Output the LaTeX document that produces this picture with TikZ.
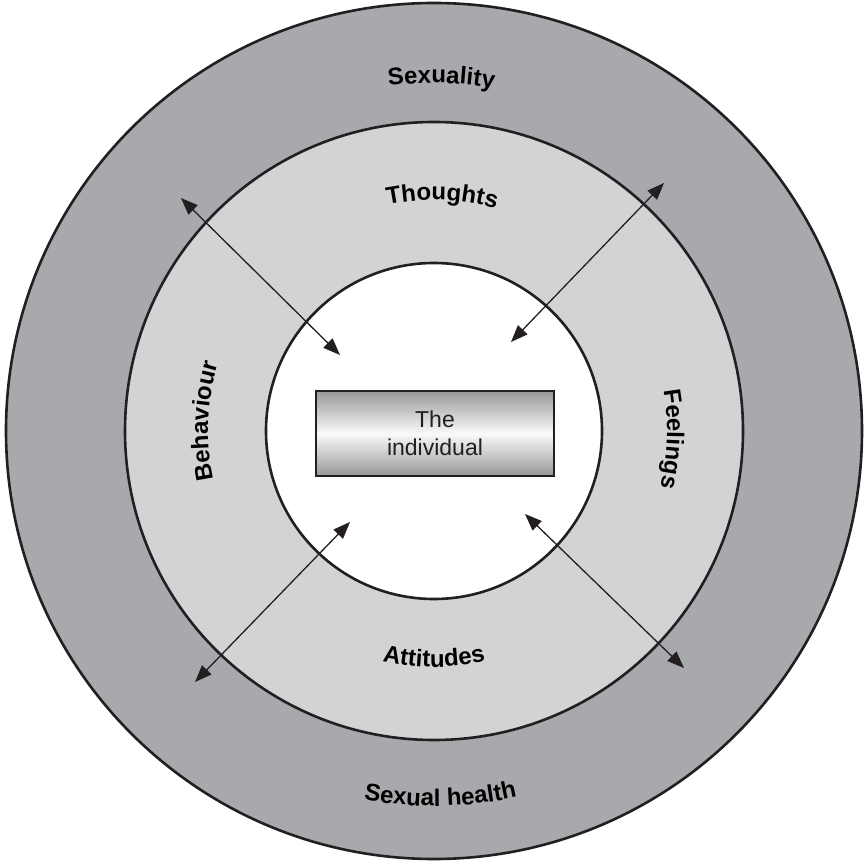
\documentclass[tikz,border=0pt]{standalone}
\usepackage{fontspec}
\setmainfont{Liberation Sans}
\usetikzlibrary{decorations.text,arrows.meta}

\definecolor{ringdark}{RGB}{168,169,173}
\definecolor{ringlight}{RGB}{210,211,213}
\definecolor{ink}{RGB}{35,31,32}
\definecolor{boxedge}{RGB}{150,151,153}

\tikzset{
  ring/.style={circle, draw=ink, line width=2.6pt, inner sep=0pt},
  twoway/.style={ink, line width=1.3pt, {Triangle[length=17pt,width=13pt]}-{Triangle[length=17pt,width=13pt]}},
  arclabel/.style={decorate, decoration={text along path, text align=center,
      text={|\bfseries\fontsize{24}{28}\selectfont|#1}}},
  centrebox/.style={draw=ink, line width=2pt, minimum width=238pt, minimum height=85pt,
      top color=boxedge, bottom color=boxedge, middle color=white!96!gray,
      align=center, font=\fontsize{23}{28}\selectfont, text=ink}
}

\begin{document}
\begin{tikzpicture}[x=1pt,y=1pt]
  \useasboundingbox (-434,-430) rectangle (432,431);

  % concentric rings
  \node[ring, fill=ringdark, minimum size=856pt] (outer) at (0,0) {};
  \node[ring, fill=ringlight, minimum size=618pt] (middle) at (0,0) {};
  \node[ring, fill=white, minimum size=336pt] (inner) at (0,0) {};

  % the centre box
  \node[centrebox] (self) at (1,-2.5) {The\\individual};

  % labels set along circular arcs
  \path[arclabel=Sexuality] (118.8:348) arc (118.8:58.8:348);
  \path[arclabel=Thoughts] (118:231) arc (118:58:231);
  \path[arclabel=Behaviour] (207.5:226) arc (207.5:147.5:226);
  \path[arclabel=Feelings] (28:233) arc (28:-32:233);
  \path[arclabel=Attitudes] (240:236) arc (240:300:236);
  \path[arclabel=Sexual health] (246:375) arc (246:296:375);

  % arrow end points
  \coordinate (ulo) at (-253,233);
  \coordinate (uli) at (-94,76);
  \coordinate (uro) at (230,248);
  \coordinate (uri) at (77,89);
  \coordinate (llo) at (-239,-251);
  \coordinate (lli) at (-84,-91);
  \coordinate (lro) at (250,-237);
  \coordinate (lri) at (91,-83);

  % two-way arrows
  \draw[twoway] (uli) -- (ulo);
  \draw[twoway] (uri) -- (uro);
  \draw[twoway] (lli) -- (llo);
  \draw[twoway] (lri) -- (lro);
\end{tikzpicture}
\end{document}
